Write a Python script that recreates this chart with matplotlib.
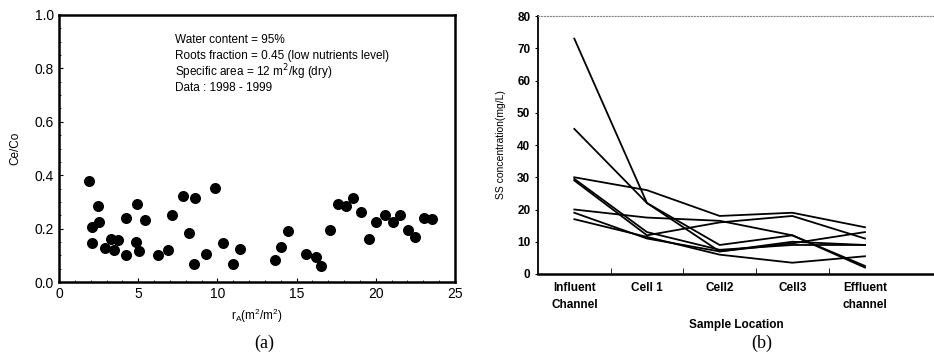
import matplotlib
matplotlib.use("Agg")
import matplotlib.pyplot as plt
import numpy as np

plt.rcParams['font.family'] = ['Liberation Sans', 'DejaVu Sans']

# panel (a): Ce/Co vs r_A
ra = [1.9, 2.08, 2.08, 2.46, 2.53, 2.9, 3.29, 3.5, 3.73, 4.23, 4.23, 4.84, 4.91, 5.08, 5.43,
      6.28, 6.87, 7.12, 7.81, 8.24, 8.53, 8.61, 9.27, 9.88, 10.34, 11.0, 11.44,
      13.63, 14.0, 14.47, 15.59, 16.24, 16.55, 17.14, 17.61, 18.11, 18.55, 19.08, 19.59,
      20.05, 20.58, 21.1, 21.55, 22.05, 22.49, 23.02, 23.57]
ce_co = [0.378, 0.206, 0.146, 0.286, 0.225, 0.128, 0.16, 0.12, 0.156, 0.10, 0.238, 0.15, 0.291, 0.115, 0.233,
         0.10, 0.119, 0.25, 0.321, 0.185, 0.066, 0.316, 0.104, 0.353, 0.145, 0.066, 0.123,
         0.083, 0.131, 0.19, 0.104, 0.095, 0.06, 0.194, 0.294, 0.285, 0.316, 0.263, 0.161,
         0.224, 0.25, 0.223, 0.25, 0.194, 0.17, 0.241, 0.236]
notes = ["Water content = 95%",
         "Roots fraction = 0.45 (low nutrients level)",
         "Specific area = 12 m$^2$/kg (dry)",
         "Data : 1998 - 1999"]

# panel (b): SS concentration along sample locations
locations = ["Influent\nChannel", "Cell 1", "Cell2", "Cell3", "Effluent\nchannel"]
ss_runs = [
    [73, 22, 7, 10, 9],
    [45, 22, 9, 12, 2.5],
    [30, 26, 18, 19, 14.5],
    [29.5, 13, 7.5, 9, 9],
    [29, 12, 16, 18, 11],
    [20, 17.5, 16.5, 12, 2],
    [19, 11, 7, 9.5, 13],
    [17, 11.5, 6, 3.5, 5.5],
]

fig = plt.figure(figsize=(9.34, 3.57), dpi=100)

ax1 = fig.add_axes([0.0632, 0.21, 0.4238, 0.748])
ax1.scatter(ra, ce_co, s=48, c="black", zorder=3)
ax1.set_xlim(0, 25)
ax1.set_ylim(0, 1.0)
ax1.set_xticks(np.arange(0, 26, 5))
ax1.set_yticks(np.arange(0, 1.01, 0.2))
ax1.set_yticklabels(["0.0", "0.2", "0.4", "0.6", "0.8", "1.0"])
ax1.set_xticks(np.arange(0, 25, 1), minor=True)
ax1.set_yticks(np.arange(0, 1.0, 0.05), minor=True)
ax1.tick_params(which="both", direction="in", labelsize=10)
ax1.tick_params(which="major", length=3)
ax1.tick_params(which="minor", length=1.5)
for sp in ax1.spines.values():
    sp.set_linewidth(1.8)
ax1.set_ylabel("Ce/Co", fontsize=8.5, labelpad=10)
ax1.set_xlabel("r$_\\mathregular{A}$(m$^\\mathregular{2}$/m$^\\mathregular{2}$)", fontsize=8.5)
for i, t in enumerate(notes):
    ax1.text(7.3, 0.905 - i * 0.06, t, fontsize=8.5, va="center")

ax2 = fig.add_axes([0.576, 0.2325, 0.424, 0.7225])
xpos = np.arange(len(locations))
for run in ss_runs:
    ax2.plot(xpos, run, color="black", lw=1.3)
ax2.set_xlim(-0.5, 4.95)
ax2.set_ylim(0, 80)
ax2.set_yticks(np.arange(0, 81, 10))
ax2.set_xticks(xpos)
ax2.set_xticklabels(locations, fontsize=8.5, fontweight="bold", linespacing=1.5)
ax2.set_xticks(xpos[:-1] + 0.5, minor=True)
ax2.tick_params(axis="x", which="major", length=0, pad=6)
ax2.tick_params(axis="x", which="minor", direction="in", length=4)
ax2.tick_params(axis="y", direction="out", length=2, labelsize=8.5)
for lab in ax2.get_yticklabels():
    lab.set_fontweight("bold")
ax2.spines["right"].set_visible(False)
ax2.spines["top"].set_linestyle(":")
ax2.spines["top"].set_color("#888888")
ax2.spines["top"].set_linewidth(0.8)
ax2.spines["left"].set_linewidth(1.3)
ax2.spines["bottom"].set_linewidth(1.8)
ax2.set_ylabel("SS concentration(mg/L)", fontsize=7.5, labelpad=8)
ax2.set_xlabel("Sample Location", fontsize=8.5, fontweight="bold", labelpad=6)

fig.text(0.283, 0.025, "(a)", family="Liberation Serif", fontsize=13, ha="center")
fig.text(0.816, 0.025, "(b)", family="Liberation Serif", fontsize=13, ha="center")

fig.savefig("out.png", dpi=100)
